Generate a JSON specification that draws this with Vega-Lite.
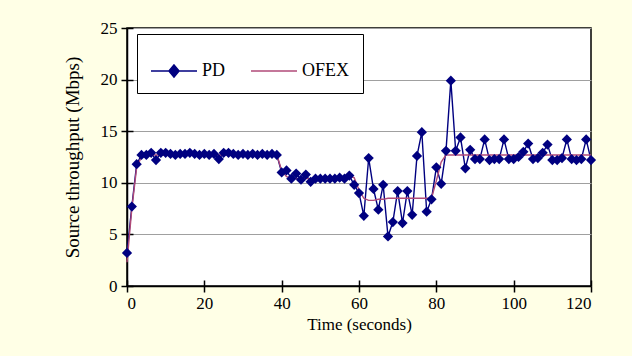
{
  "$schema": "https://vega.github.io/schema/vega-lite/v6.json",
  "width": 464,
  "height": 258,
  "autosize": {"type": "none"},
  "padding": {"left": 127, "top": 28, "right": 41, "bottom": 70},
  "background": "#FFFFE6",
  "config": {
    "view": {"fill": "white", "stroke": "black", "strokeWidth": 1.5},
    "font": "Liberation Serif"
  },
  "data": {"values": [
    {"t":0,"PD":3.2,"OFEX":2.3},{"t":1.25,"PD":7.7,"OFEX":7.5},{"t":2.5,"PD":11.8,"OFEX":11.5},{"t":3.75,"PD":12.7,"OFEX":12.5},
    {"t":5,"PD":12.7,"OFEX":12.7},{"t":6.25,"PD":12.9,"OFEX":12.7},{"t":7.5,"PD":12.2,"OFEX":12.7},{"t":8.75,"PD":12.9,"OFEX":12.7},
    {"t":10,"PD":12.9,"OFEX":12.7},{"t":11.25,"PD":12.8,"OFEX":12.7},{"t":12.5,"PD":12.7,"OFEX":12.7},{"t":13.75,"PD":12.8,"OFEX":12.7},
    {"t":15,"PD":12.8,"OFEX":12.7},{"t":16.25,"PD":12.9,"OFEX":12.7},{"t":17.5,"PD":12.8,"OFEX":12.7},{"t":18.75,"PD":12.7,"OFEX":12.7},
    {"t":20,"PD":12.8,"OFEX":12.7},{"t":21.25,"PD":12.7,"OFEX":12.7},{"t":22.5,"PD":12.8,"OFEX":12.7},{"t":23.75,"PD":12.3,"OFEX":12.7},
    {"t":25,"PD":12.9,"OFEX":12.7},{"t":26.25,"PD":12.9,"OFEX":12.7},{"t":27.5,"PD":12.8,"OFEX":12.7},{"t":28.75,"PD":12.7,"OFEX":12.7},
    {"t":30,"PD":12.8,"OFEX":12.7},{"t":31.25,"PD":12.7,"OFEX":12.7},{"t":32.5,"PD":12.8,"OFEX":12.7},{"t":33.75,"PD":12.7,"OFEX":12.7},
    {"t":35,"PD":12.8,"OFEX":12.7},{"t":36.25,"PD":12.7,"OFEX":12.7},{"t":37.5,"PD":12.8,"OFEX":12.7},{"t":38.75,"PD":12.7,"OFEX":12.7},
    {"t":40,"PD":11.0,"OFEX":11.2},{"t":41.25,"PD":11.2,"OFEX":10.6},{"t":42.5,"PD":10.4,"OFEX":10.5},{"t":43.75,"PD":10.9,"OFEX":10.4},
    {"t":45,"PD":10.3,"OFEX":10.4},{"t":46.25,"PD":10.8,"OFEX":10.4},{"t":47.5,"PD":10.1,"OFEX":10.4},{"t":48.75,"PD":10.4,"OFEX":10.4},
    {"t":50,"PD":10.4,"OFEX":10.4},{"t":51.25,"PD":10.4,"OFEX":10.4},{"t":52.5,"PD":10.4,"OFEX":10.4},{"t":53.75,"PD":10.4,"OFEX":10.4},
    {"t":55,"PD":10.5,"OFEX":10.4},{"t":56.25,"PD":10.4,"OFEX":10.4},{"t":57.5,"PD":10.7,"OFEX":10.6},{"t":58.75,"PD":9.8,"OFEX":10.5},
    {"t":60,"PD":9.0,"OFEX":9.3},{"t":61.25,"PD":6.8,"OFEX":8.5},{"t":62.5,"PD":12.4,"OFEX":8.3},{"t":63.75,"PD":9.4,"OFEX":8.3},
    {"t":65,"PD":7.4,"OFEX":8.4},{"t":66.25,"PD":9.8,"OFEX":8.4},{"t":67.5,"PD":4.8,"OFEX":8.5},{"t":68.75,"PD":6.2,"OFEX":8.5},
    {"t":70,"PD":9.2,"OFEX":8.5},{"t":71.25,"PD":6.1,"OFEX":8.5},{"t":72.5,"PD":9.2,"OFEX":8.5},{"t":73.75,"PD":6.9,"OFEX":8.5},
    {"t":75,"PD":12.6,"OFEX":8.5},{"t":76.25,"PD":14.9,"OFEX":8.5},{"t":77.5,"PD":7.2,"OFEX":8.5},{"t":78.75,"PD":8.4,"OFEX":8.5},
    {"t":80,"PD":11.5,"OFEX":10.2},{"t":81.25,"PD":9.9,"OFEX":12.0},{"t":82.5,"PD":13.1,"OFEX":12.7},{"t":83.75,"PD":19.9,"OFEX":12.7},
    {"t":85,"PD":13.1,"OFEX":12.7},{"t":86.25,"PD":14.4,"OFEX":12.7},{"t":87.5,"PD":11.4,"OFEX":12.7},{"t":88.75,"PD":13.2,"OFEX":12.7},
    {"t":90,"PD":12.3,"OFEX":12.7},{"t":91.25,"PD":12.3,"OFEX":12.7},{"t":92.5,"PD":14.2,"OFEX":12.7},{"t":93.75,"PD":12.2,"OFEX":12.7},
    {"t":95,"PD":12.3,"OFEX":12.7},{"t":96.25,"PD":12.3,"OFEX":12.7},{"t":97.5,"PD":14.2,"OFEX":12.7},{"t":98.75,"PD":12.3,"OFEX":12.7},
    {"t":100,"PD":12.3,"OFEX":12.7},{"t":101.25,"PD":12.5,"OFEX":12.7},{"t":102.5,"PD":13.0,"OFEX":12.7},{"t":103.75,"PD":13.8,"OFEX":12.7},
    {"t":105,"PD":12.3,"OFEX":12.7},{"t":106.25,"PD":12.4,"OFEX":12.7},{"t":107.5,"PD":12.9,"OFEX":12.7},{"t":108.75,"PD":13.7,"OFEX":12.7},
    {"t":110,"PD":12.2,"OFEX":12.7},{"t":111.25,"PD":12.2,"OFEX":12.7},{"t":112.5,"PD":12.4,"OFEX":12.7},{"t":113.75,"PD":14.2,"OFEX":12.7},
    {"t":115,"PD":12.3,"OFEX":12.7},{"t":116.25,"PD":12.2,"OFEX":12.7},{"t":117.5,"PD":12.3,"OFEX":12.7},{"t":118.75,"PD":14.2,"OFEX":12.7},
    {"t":120,"PD":12.2,"OFEX":12.7}
  ]},
  "transform": [{"fold": ["PD", "OFEX"], "as": ["s", "v"]}],
  "layer": [
    {
      "mark": {"type": "line", "strokeWidth": 1.4},
      "encoding": {
        "x": {"field": "t", "type": "quantitative", "scale": {"domain": [0, 120], "nice": false},
          "axis": {"orient": "bottom", "values": [0,20,40,60,80,100,120], "title": "Time (seconds)", "grid": false,
            "tickSize": 6, "tickColor": "black", "tickWidth": 1.5, "domainColor": "black", "domainWidth": 1.5,
            "labelFontSize": 17, "labelColor": "black", "labelFont": "Liberation Serif", "labelPadding": 3,
            "titleFontSize": 17, "titleFont": "Liberation Serif", "titleFontWeight": "normal", "titleColor": "black", "titlePadding": 5}},
        "y": {"field": "v", "type": "quantitative", "scale": {"domain": [0, 25], "nice": false},
          "axis": {"orient": "left", "values": [0,5,10,15,20,25], "title": "Source throughput (Mbps)", "grid": true,
            "gridColor": "#A0A0A0", "gridWidth": 1, "tickSize": 6, "tickColor": "black", "tickWidth": 1.5,
            "domainColor": "black", "domainWidth": 1.5,
            "labelFontSize": 17, "labelColor": "black", "labelFont": "Liberation Serif", "labelPadding": 4,
            "titleFontSize": 19, "titleFont": "Liberation Serif", "titleFontWeight": "normal", "titleColor": "black", "titlePadding": 18}},
        "color": {"field": "s", "type": "nominal",
          "scale": {"domain": ["PD", "OFEX"], "range": ["#000080", "#B04A78"]},
          "legend": {"title": null, "orient": "none", "legendX": 10, "legendY": 6, "direction": "horizontal",
            "strokeColor": "black", "fillColor": "white", "padding": 13,
            "symbolSize": 2116, "symbolStrokeWidth": 1.5, "labelFontSize": 18, "labelFont": "Liberation Serif",
            "labelColor": "black", "columnPadding": 22, "labelOffset": 4,
            "encode": {"symbols": {"update": {
              "shape": {"signal": "datum.value === 'PD' ? 'M-1,0L1,0M0,-0.26L0.22,0L0,0.26L-0.22,0Z' : 'M-1,0L1,0'"},
              "fill": {"signal": "datum.value === 'PD' ? '#000080' : 'transparent'"}
            }}}}}
      }
    },
    {
      "transform": [{"filter": "datum.s === 'PD'"}],
      "mark": {"type": "point", "shape": "diamond", "filled": true, "size": 105, "opacity": 1, "color": "#000080"},
      "encoding": {
        "x": {"field": "t", "type": "quantitative",
          "axis": {"orient": "bottom", "values": [0,20,40,60,80,100,120], "labels": false, "title": null, "domain": false, "grid": false,
            "tickSize": -6, "tickColor": "black", "tickWidth": 1.5}},
        "y": {"field": "v", "type": "quantitative",
          "axis": {"orient": "left", "values": [0,5,10,15,20,25], "labels": false, "title": null, "domain": false, "grid": false,
            "tickSize": -6, "tickColor": "black", "tickWidth": 1.5}}
      }
    }
  ],
  "resolve": {"axis": {"x": "independent", "y": "independent"}}
}
